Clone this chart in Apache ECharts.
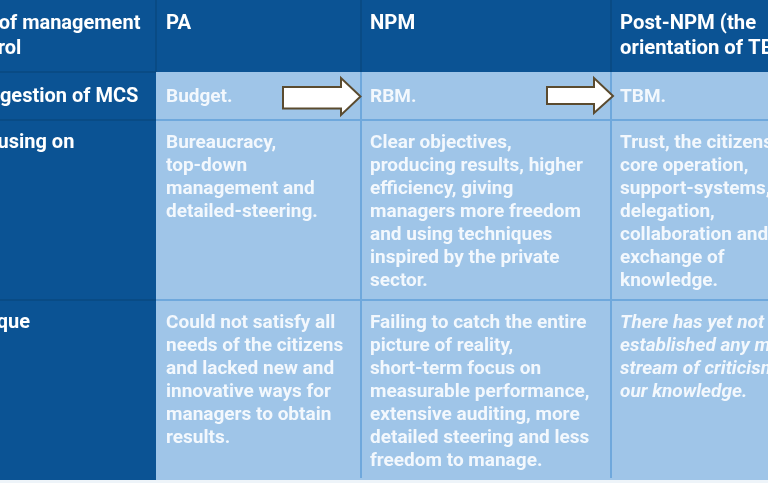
<!DOCTYPE html>
<html>
<head>
<meta charset="utf-8">
<script src="https://cdn.jsdelivr.net/npm/echarts@6/dist/echarts.min.js"></script>
<style>
  html, body { margin: 0; padding: 0; background: #EEF4F9; }
  #chart { width: 768px; height: 483px; }
</style>
</head>
<body>
<div id="chart"></div>
<script>
// ---- data (table content) ----
const rowLabels = [
  ['Type of management', 'control'],
  ['Suggestion of MCS'],
  ['Focusing on'],
  ['Critique']
];
const columnHeaders = [
  ['PA'],
  ['NPM'],
  ['Post-NPM (the', 'orientation of TBM)']
];
const suggestionRow = [['Budget.'], ['RBM.'], ['TBM.']];
const focusRow = [
  ['Bureaucracy,', 'top-down', 'management and', 'detailed-steering.'],
  ['Clear objectives,', 'producing results, higher', 'efficiency, giving', 'managers more freedom', 'and using techniques', 'inspired by the private', 'sector.'],
  ["Trust, the citizens'", 'core operation,', 'support-systems,', 'delegation,', 'collaboration and', 'exchange of', 'knowledge.']
];
const critiqueRow = [
  ['Could not satisfy all', 'needs of the citizens', 'and lacked new and', 'innovative ways for', 'managers to obtain', 'results.'],
  ['Failing to catch the entire', 'picture of reality,', 'short-term focus on', 'measurable performance,', 'extensive auditing, more', 'detailed steering and less', 'freedom to manage.'],
  ['There has yet not been', 'established any main', 'stream of criticism to', 'our knowledge.']
];
const italicCells = [[3, 2]]; // [row, col] of italic body cells

// ---- layout ----
const colEdges = [0, 156, 361, 611, 768];
const rowEdges = [0, 72, 120, 300, 480];
const textX = [0, 166, 370, 620];
const labelX = [[-50, -42], [-35], [-35], [-41]];
const dark = '#0B5394', light = '#9FC5E8', lightLine = '#6FA8DC', darkLine = '#0A4880';
const FONT = 'Roboto';

const chart = echarts.init(document.getElementById('chart'), null, { renderer: 'canvas' });
const g = [];

g.push({ type: 'rect', shape: { x: 0, y: 0, width: 768, height: 483 }, style: { fill: '#EEF4F9' }, z: 0 });

for (let r = 0; r < 4; r++) {
  for (let c = 0; c < 4; c++) {
    const isDark = (r === 0 || c === 0);
    g.push({
      type: 'rect',
      shape: { x: colEdges[c], y: rowEdges[r], width: colEdges[c + 1] - colEdges[c], height: rowEdges[r + 1] - rowEdges[r] },
      style: { fill: isDark ? dark : light },
      z: 1
    });
  }
}
[361, 611].forEach(x => g.push({ type: 'line', shape: { x1: x, y1: 72, x2: x, y2: 478 }, style: { stroke: lightLine, lineWidth: 2 }, z: 2 }));
[120, 300].forEach(y => g.push({ type: 'line', shape: { x1: 156, y1: y, x2: 768, y2: y }, style: { stroke: lightLine, lineWidth: 2 }, z: 2 }));
[156, 361, 611].forEach(x => g.push({ type: 'line', shape: { x1: x, y1: 0, x2: x, y2: 72 }, style: { stroke: darkLine, lineWidth: 1.5 }, z: 2 }));
[72, 120, 300].forEach(y => g.push({ type: 'line', shape: { x1: 0, y1: y, x2: 156, y2: y }, style: { stroke: darkLine, lineWidth: 1.5 }, z: 2 }));

function addText(lines, xs, r, opts) {
  const lh = opts.lineHeight;
  lines.forEach((t, i) => {
    g.push({
      type: 'text', z: 5,
      x: Array.isArray(xs) ? xs[i] : xs, y: rowEdges[r] + opts.top + i * lh,
      style: {
        text: t, fill: opts.color, font: (opts.italic ? 'italic ' : '') + 'bold ' + opts.size + 'px ' + FONT,
        align: 'left', verticalAlign: 'middle'
      }
    });
  });
}

addText(rowLabels[0], labelX[0], 0, { size: 20, lineHeight: 25, top: 24, color: '#ffffff' });
columnHeaders.forEach((h, i) => addText(h, textX[i + 1], 0, { size: 20.3, lineHeight: 25, top: 24, color: '#ffffff' }));
for (let r = 1; r < 4; r++) addText(rowLabels[r], labelX[r], r, { size: 20, lineHeight: 25, top: r === 1 ? 25 : 23, color: '#ffffff' });

const bodyRows = [suggestionRow, focusRow, critiqueRow];
bodyRows.forEach((row, ri) => {
  const r = ri + 1;
  row.forEach((lines, ci) => {
    const it = italicCells.some(p => p[0] === r && p[1] === ci);
    addText(lines, textX[ci + 1], r, { size: 19, lineHeight: 23, top: r === 1 ? 25 : 23, color: '#F3F8FD', italic: it });
  });
});

function arrow(x0, x1, xt, sTop, sBot, hTop, hBot, yt) {
  return { type: 'polygon', z: 4,
    shape: { points: [[x0, sTop], [x1, sTop], [x1, hTop], [xt, yt], [x1, hBot], [x1, sBot], [x0, sBot]] },
    style: { fill: '#ffffff', stroke: '#5B4B2F', lineWidth: 2, lineJoin: 'miter' } };
}
g.push(arrow(283, 341, 360.5, 87, 108.5, 78, 115, 96.5));
g.push(arrow(547, 594, 613, 87, 104, 78, 113, 96));

chart.setOption({ animation: false, backgroundColor: '#EEF4F9', graphic: g });
</script>
</body>
</html>
